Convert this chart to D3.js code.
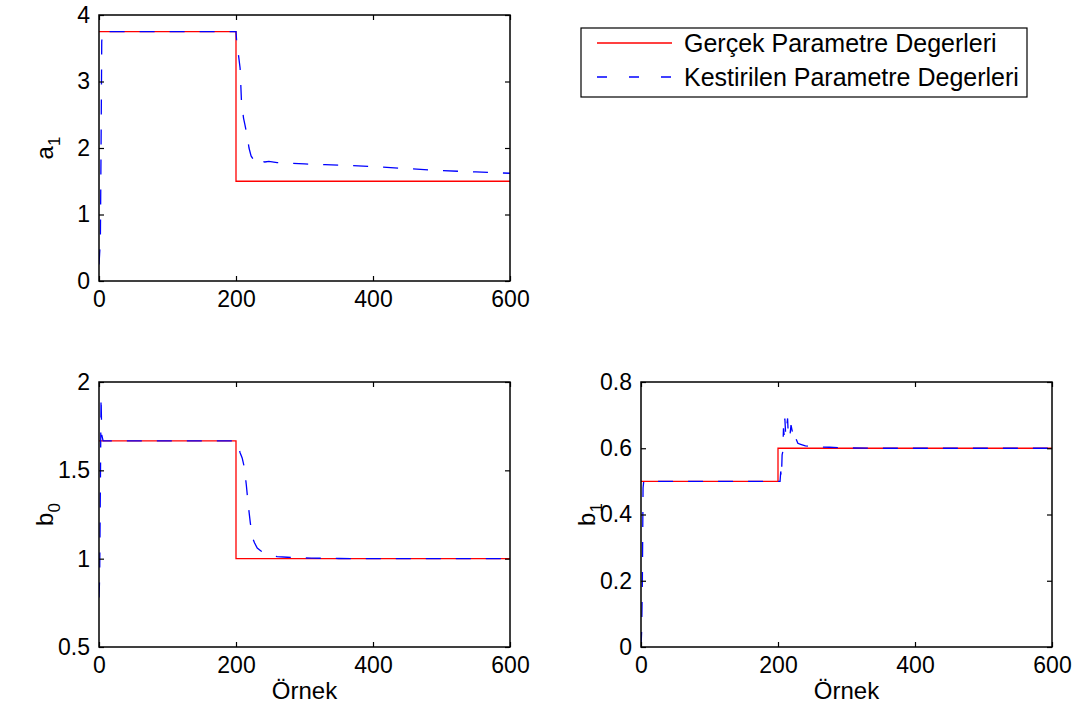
<!DOCTYPE html>
<html>
<head>
<meta charset="utf-8">
<script src="https://cdn.jsdelivr.net/npm/d3@7"></script>
<style>
  body { margin: 0; background: #fff; }
  svg { display: block; }
  text { font-family: "Liberation Sans", Arial, Helvetica, sans-serif; }
</style>
</head>
<body>
<svg id="chart" width="1081" height="716"></svg>
<script>
// ---------------- data ----------------
const xTicks = [0, 200, 400, 600];
const xDomain = [0, 600];

// true parameter values (step changes at sample 200)
const trueK  = [0, 200, 200, 600];
const trueA1 = [3.75, 3.75, 1.5, 1.5];
const trueB0 = [1.667, 1.667, 1.0, 1.0];
const trueB1 = [0.5, 0.5, 0.6, 0.6];

// estimated parameter values
const estK_a1 = [0, 2, 3, 4, 5, 200, 201, 203, 206, 208, 211, 213, 216, 219, 222, 226, 230, 234, 238, 242, 248, 260, 280, 300, 330, 360, 400, 450, 500, 550, 600];
const estA1   = [0.25, 0.6, 2.0, 3.6, 3.75, 3.75, 3.6, 3.45, 3.2, 2.7, 2.45, 2.35, 2.2, 2.0, 1.88, 1.82, 1.85, 1.78, 1.80, 1.79, 1.80, 1.78, 1.77, 1.76, 1.75, 1.74, 1.72, 1.69, 1.66, 1.64, 1.62];

const estK_b0 = [0, 1, 2, 3, 4, 6, 200, 203, 206, 209, 212, 215, 218, 221, 224, 227, 231, 236, 242, 250, 260, 275, 290, 310, 350, 400, 600];
const estB0   = [0.78, 0.9, 1.4, 1.92, 1.7, 1.667, 1.667, 1.64, 1.60, 1.57, 1.52, 1.42, 1.30, 1.20, 1.12, 1.09, 1.06, 1.045, 1.03, 1.02, 1.012, 1.008, 1.005, 1.003, 1.001, 1.0, 1.0];

const estK_b1 = [0, 1, 2, 3, 4, 200, 203, 204, 205, 206, 207, 208, 209, 210, 211, 212, 213, 214, 215, 217, 219, 221, 223, 226, 229, 233, 240, 255, 275, 300, 350, 600];
const estB1   = [0, 0.05, 0.2, 0.48, 0.5, 0.5, 0.5, 0.53, 0.51, 0.58, 0.59, 0.66, 0.64, 0.69, 0.65, 0.68, 0.67, 0.69, 0.64, 0.63, 0.67, 0.65, 0.62, 0.63, 0.615, 0.612, 0.607, 0.604, 0.603, 0.601, 0.6, 0.6];

const a1Ticks = [0, 1, 2, 3, 4];
const b0Ticks = [0.5, 1, 1.5, 2];
const b1Ticks = [0, 0.2, 0.4, 0.6, 0.8];

const xLabel = "Örnek";
const legendLabels = ["Gerçek Parametre Degerleri", "Kestirilen Parametre Degerleri"];
const trueColor = "#ff0000";
const estColor = "#0000ff";

// ---------------- drawing ----------------
const svg = d3.select("#chart");
const FONT = 23;

function panel(opt) {
  const { x0, x1, y0, y1, yDomain, yTicks, ylab, ysub, showX, trueY, estK, estY } = opt;
  const x = d3.scaleLinear().domain(xDomain).range([x0, x1]);
  const y = d3.scaleLinear().domain(yDomain).range([y1, y0]);
  const g = svg.append("g");

  const fmt = d => String(d);

  // clip
  const cid = "clip" + Math.round(x0) + "_" + Math.round(y0);
  svg.append("defs").append("clipPath").attr("id", cid)
    .append("rect").attr("x", x0).attr("y", y0).attr("width", x1 - x0).attr("height", y1 - y0);

  const line = d3.line().x(d => x(d[0])).y(d => y(d[1]));
  const lines = g.append("g").attr("clip-path", `url(#${cid})`);
  lines.append("path")
    .attr("d", line(trueK.map((k, i) => [k, trueY[i]])))
    .attr("fill", "none").attr("stroke", trueColor).attr("stroke-width", 1.3);
  lines.append("path")
    .attr("d", line(estK.map((k, i) => [k, estY[i]])))
    .attr("fill", "none").attr("stroke", estColor).attr("stroke-width", 1.3)
    .attr("stroke-dasharray", "15,15");

  // axes (MATLAB style: inward ticks on all sides)
  const tick = 5;
  const left = g.append("g").attr("transform", `translate(${x0},0)`)
    .call(d3.axisLeft(y).tickValues(yTicks).tickFormat(fmt).tickSize(-tick).tickPadding(9));
  const right = g.append("g").attr("transform", `translate(${x1},0)`)
    .call(d3.axisRight(y).tickValues(yTicks).tickFormat("").tickSize(-tick));
  const bottom = g.append("g").attr("transform", `translate(0,${y1})`)
    .call(d3.axisBottom(x).tickValues(xTicks).tickFormat(fmt).tickSize(-tick).tickPadding(10));
  const top = g.append("g").attr("transform", `translate(0,${y0})`)
    .call(d3.axisTop(x).tickValues(xTicks).tickFormat("").tickSize(-tick));
  [left, right, bottom, top].forEach(a => {
    a.select(".domain").remove();
    a.selectAll("line").attr("stroke", "#000").attr("stroke-width", 1.2);
    a.selectAll("text").attr("font-size", FONT).attr("fill", "#000")
      .style("font-family", '"Liberation Sans", Arial, sans-serif');
  });
  g.append("rect").attr("x", x0).attr("y", y0).attr("width", x1 - x0).attr("height", y1 - y0)
    .attr("fill", "none").attr("stroke", "#000").attr("stroke-width", 1.5);

  // y label with subscript
  const yl = g.append("text")
    .attr("transform", `translate(${x0 - 46},${(y0 + y1) / 2}) rotate(-90)`)
    .attr("text-anchor", "middle").attr("font-size", FONT + 1).attr("fill", "#000");
  yl.append("tspan").text(ylab);
  yl.append("tspan").attr("dy", 7).attr("font-size", FONT - 6).text(ysub);

  if (showX) {
    g.append("text").attr("x", (x0 + x1) / 2).attr("y", y1 + 52)
      .attr("text-anchor", "middle").attr("font-size", FONT + 1).attr("fill", "#000").text(xLabel);
  }
}

panel({ x0: 99, x1: 510, y0: 15, y1: 281, yDomain: [0, 4], yTicks: a1Ticks, ylab: "a", ysub: "1",
        showX: false, trueY: trueA1, estK: estK_a1, estY: estA1 });
panel({ x0: 99, x1: 510, y0: 382, y1: 647, yDomain: [0.5, 2], yTicks: b0Ticks, ylab: "b", ysub: "0",
        showX: true, trueY: trueB0, estK: estK_b0, estY: estB0 });
panel({ x0: 641, x1: 1052, y0: 382, y1: 647, yDomain: [0, 0.8], yTicks: b1Ticks, ylab: "b", ysub: "1",
        showX: true, trueY: trueB1, estK: estK_b1, estY: estB1 });

// legend
const lg = svg.append("g");
lg.append("rect").attr("x", 581).attr("y", 28).attr("width", 446).attr("height", 69)
  .attr("fill", "#fff").attr("stroke", "#000").attr("stroke-width", 1.2);
const rows = [{ y: 43, color: trueColor, dash: null }, { y: 77, color: estColor, dash: "10,22" }];
rows.forEach((r, i) => {
  lg.append("line").attr("x1", 597).attr("x2", 672).attr("y1", r.y).attr("y2", r.y)
    .attr("stroke", r.color).attr("stroke-width", 1.3).attr("stroke-dasharray", r.dash);
  lg.append("text").attr("x", 684).attr("y", r.y + 9).attr("font-size", 25)
    .attr("fill", "#000").text(legendLabels[i]);
});
</script>
</body>
</html>
